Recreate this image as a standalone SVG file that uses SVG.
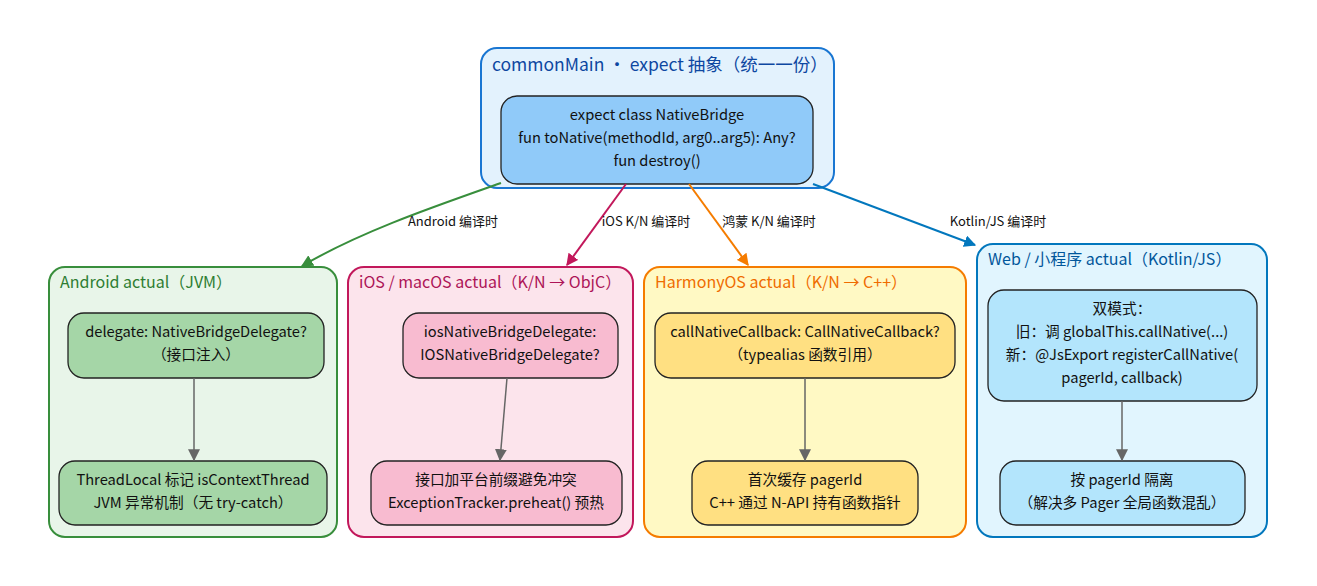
<svg xmlns="http://www.w3.org/2000/svg" width="1317" height="586" viewBox="0 0 1317 586">
<defs>
<style>
text{font-family:"Noto Sans CJK SC","Noto Sans",sans-serif;}
.t{font-size:14.7px;fill:#111;text-anchor:middle;}
.ct{font-size:16px;}
.el{font-size:13px;fill:#111;text-anchor:middle;}
.cl{stroke-width:2;}
.nd{stroke:#222;stroke-width:1.3;}
.e{fill:none;stroke-width:2;}
.g{fill:none;stroke:#666;stroke-width:1.5;}
</style>
<marker id="mg" viewBox="0 0 10 10" refX="9" refY="5" markerWidth="6" markerHeight="6" markerUnits="strokeWidth" orient="auto"><path d="M0,0L10,5L0,10z" fill="#388e3c"/></marker>
<marker id="mp" viewBox="0 0 10 10" refX="9" refY="5" markerWidth="6" markerHeight="6" markerUnits="strokeWidth" orient="auto"><path d="M0,0L10,5L0,10z" fill="#c2185b"/></marker>
<marker id="mo" viewBox="0 0 10 10" refX="9" refY="5" markerWidth="6" markerHeight="6" markerUnits="strokeWidth" orient="auto"><path d="M0,0L10,5L0,10z" fill="#f57c00"/></marker>
<marker id="mb" viewBox="0 0 10 10" refX="9" refY="5" markerWidth="6" markerHeight="6" markerUnits="strokeWidth" orient="auto"><path d="M0,0L10,5L0,10z" fill="#0277bd"/></marker>
<marker id="mgr" viewBox="0 0 10 10" refX="9" refY="5" markerWidth="8" markerHeight="8" markerUnits="strokeWidth" orient="auto"><path d="M0,0L10,5L0,10z" fill="#666"/></marker>
</defs>
<rect width="1317" height="586" fill="#fff"/>

<g id="commonMain">
<rect x="481" y="48" width="353" height="140" rx="16" fill="#e3f2fd" stroke="#1976d2" class="cl"/>
<text x="492" y="71" font-size="17.5" fill="#0d47a1">commonMain ・ expect 抽象（统一一份）</text>
</g>
<g id="nativeBridge">
<rect x="501" y="96" width="312" height="88" rx="16" fill="#90caf9" class="nd"/>
<text x="657" y="120" class="t">expect class NativeBridge</text>
<text x="657" y="143" class="t">fun toNative(methodId, arg0..arg5): Any?</text>
<text x="657" y="166" class="t">fun destroy()</text>
</g>

<g id="android">
<rect x="49" y="267" width="288" height="270" rx="16" fill="#e8f5e9" stroke="#388e3c" class="cl"/>
<text x="60" y="288" class="ct" fill="#2e7d32">Android actual（JVM）</text>
</g>
<g id="androidDelegate">
<rect x="68" y="313" width="256" height="65" rx="16" fill="#a5d6a7" class="nd"/>
<text x="196" y="337" class="t">delegate: NativeBridgeDelegate?</text>
<text x="196" y="360" class="t">（接口注入）</text>
</g>
<g id="androidThread">
<rect x="59" y="461" width="268" height="64" rx="16" fill="#a5d6a7" class="nd"/>
<text x="193" y="485" class="t">ThreadLocal 标记 isContextThread</text>
<text x="193" y="508" class="t">JVM 异常机制（无 try-catch）</text>
</g>

<g id="ios">
<rect x="348" y="267" width="285" height="270" rx="16" fill="#fce4ec" stroke="#c2185b" class="cl"/>
<text x="359" y="288" class="ct" fill="#ad1457">iOS / macOS actual（K/N → ObjC）</text>
</g>
<g id="iosDelegate">
<rect x="403" y="313" width="215" height="65" rx="16" fill="#f8bbd0" class="nd"/>
<text x="510" y="337" class="t">iosNativeBridgeDelegate:</text>
<text x="510" y="360" class="t">IOSNativeBridgeDelegate?</text>
</g>
<g id="iosPrefix">
<rect x="371" y="461" width="251" height="64" rx="16" fill="#f8bbd0" class="nd"/>
<text x="496" y="485" class="t">接口加平台前缀避免冲突</text>
<text x="496" y="508" class="t">ExceptionTracker.preheat() 预热</text>
</g>

<g id="harmony">
<rect x="644" y="267" width="322" height="270" rx="16" fill="#fff9c4" stroke="#f57c00" class="cl"/>
<text x="655" y="288" class="ct" fill="#ef6c00">HarmonyOS actual（K/N → C++）</text>
</g>
<g id="harmonyCallback">
<rect x="655" y="313" width="300" height="65" rx="16" fill="#ffe082" class="nd"/>
<text x="805" y="337" class="t">callNativeCallback: CallNativeCallback?</text>
<text x="805" y="360" class="t">（typealias 函数引用）</text>
</g>
<g id="harmonyCache">
<rect x="692" y="461" width="226" height="64" rx="16" fill="#ffe082" class="nd"/>
<text x="805" y="485" class="t">首次缓存 pagerId</text>
<text x="805" y="508" class="t">C++ 通过 N-API 持有函数指针</text>
</g>

<g id="web">
<rect x="977" y="244" width="290" height="293" rx="16" fill="#e1f5fe" stroke="#0277bd" class="cl"/>
<text x="988" y="265" class="ct" fill="#01579b">Web / 小程序 actual（Kotlin/JS）</text>
</g>
<g id="webModes">
<rect x="988" y="290" width="269" height="111" rx="16" fill="#b3e5fc" class="nd"/>
<text x="1122" y="314" class="t">双模式：</text>
<text x="1122" y="337" class="t">旧：调 globalThis.callNative(...)</text>
<text x="1122" y="360" class="t">新：@JsExport registerCallNative(</text>
<text x="1122" y="383" class="t">pagerId, callback)</text>
</g>
<g id="webIsolate">
<rect x="1000" y="461" width="245" height="64" rx="16" fill="#b3e5fc" class="nd"/>
<text x="1122" y="485" class="t">按 pagerId 隔离</text>
<text x="1122" y="508" class="t">（解决多 Pager 全局函数混乱）</text>
</g>

<g id="connectors">
<path d="M501,183 C430,208 360,232 302,266" class="e" stroke="#388e3c" marker-end="url(#mg)"/>
<path d="M626,184 L567,265" class="e" stroke="#c2185b" marker-end="url(#mp)"/>
<path d="M689,184 L748,265" class="e" stroke="#f57c00" marker-end="url(#mo)"/>
<path d="M813,184 L975,245" class="e" stroke="#0277bd" marker-end="url(#mb)"/>
<text x="453" y="226" class="el">Android 编译时</text>
<text x="646" y="226" class="el">iOS K/N 编译时</text>
<text x="769" y="226" class="el">鸿蒙 K/N 编译时</text>
<text x="998" y="226" class="el">Kotlin/JS 编译时</text>
<path d="M194,378 L194,460" class="g" marker-end="url(#mgr)"/>
<path d="M507,378 L500,460" class="g" marker-end="url(#mgr)"/>
<path d="M805,378 L805,460" class="g" marker-end="url(#mgr)"/>
<path d="M1122,401 L1122,460" class="g" marker-end="url(#mgr)"/>
</g>
</svg>
